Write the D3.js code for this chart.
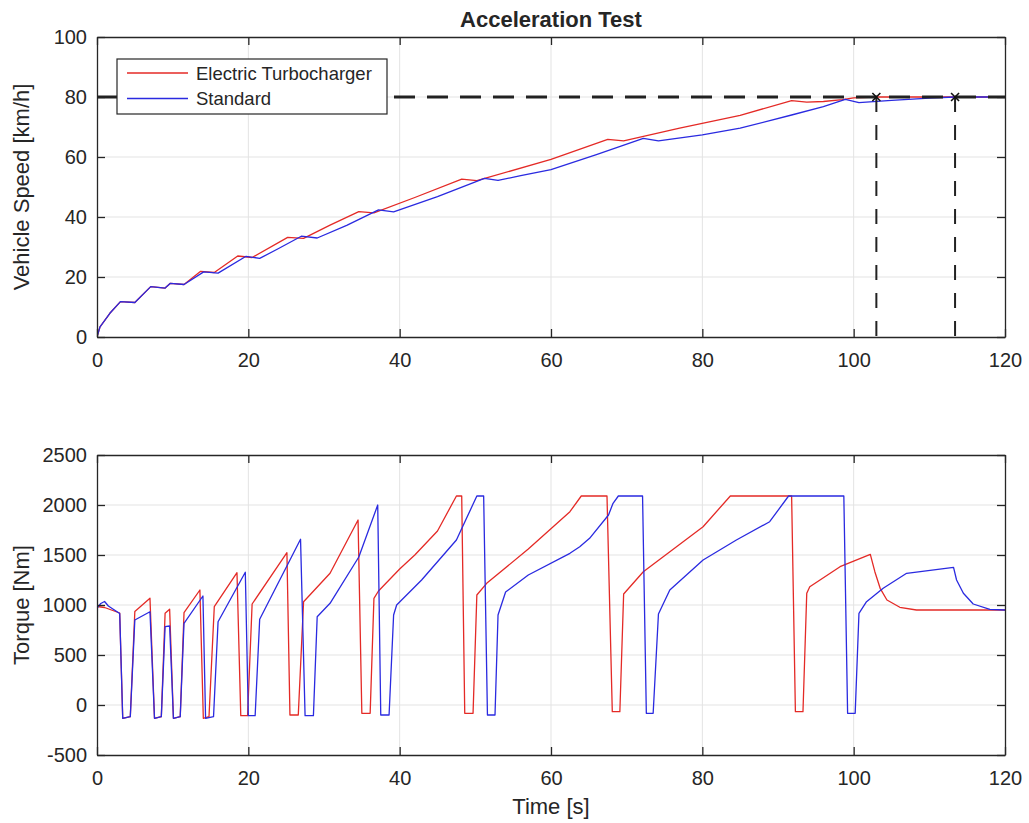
<!DOCTYPE html>
<html>
<head>
<meta charset="utf-8">
<script src="https://cdn.jsdelivr.net/npm/d3@7"></script>
<style>
  body { margin: 0; background: #fff; }
  text { font-family: "Liberation Sans", Arial, sans-serif; fill: #262626; }
</style>
</head>
<body>
<svg width="1029" height="823"></svg>
<script>
// series names and read-off values
var seriesNames = ["Electric Turbocharger", "Standard"];

var timeTicks = [0, 20, 40, 60, 80, 100, 120];
var speedTicks = [0, 20, 40, 60, 80, 100];
var torqueTicks = [-500, 0, 500, 1000, 1500, 2000, 2500];

var targetSpeed = 80;
var reachTimes = [103.0, 113.4];

// [time s, speed km/h]
var speedElectric = [
  [0, 0], [0.4, 3.4], [1.7, 7.9], [3.1, 11.8], [5.0, 11.5], [7.1, 16.8], [9.0, 16.3],
  [9.7, 17.9], [11.5, 17.5], [13.7, 21.9], [15.5, 21.5], [18.6, 27.0], [20.5, 26.5],
  [25.2, 33.2], [27.3, 32.9], [30.8, 37.3], [34.6, 41.8], [36.6, 41.4], [42, 46.5],
  [48.2, 52.6], [50.2, 52.1], [60, 59.2], [67.5, 65.9], [69.6, 65.4], [77, 69.6],
  [85, 73.9], [91.8, 78.8], [93.8, 78.3], [96, 78.5], [98.5, 79.1], [100, 79.7],
  [103, 80], [120, 80]
];
var speedStandard = [
  [0, 0], [0.4, 3.4], [1.7, 7.9], [3.1, 11.8], [5.0, 11.5], [7.1, 16.8], [9.0, 16.3],
  [9.7, 17.9], [11.5, 17.5], [14.1, 21.7], [16.0, 21.3], [19.7, 26.9], [21.5, 26.2],
  [24, 29.5], [27.0, 33.6], [29.1, 33.0], [33, 37.2], [37.2, 42.4], [39.2, 41.7],
  [45, 46.8], [51.2, 52.9], [53.0, 52.2], [56, 53.8], [60, 55.8], [66, 60.8],
  [72.2, 66.2], [74.2, 65.4], [80, 67.4], [85, 69.6], [91.8, 74.0], [96, 76.8],
  [98.9, 79.2], [100.7, 78.1], [105, 78.9], [110, 79.6], [113.4, 80], [120, 80]
];

// [time s, torque Nm]
var torqueElectric = [
  [0, 0], [0.05, 985], [1, 975], [3.0, 920], [3.4, -133], [4.4, -117], [5.0, 935],
  [7.0, 1067], [7.6, -133], [8.5, -117], [9.0, 917], [9.6, 957], [10.1, -133],
  [11.0, -117], [11.5, 923], [13.6, 1150], [14.05, -133], [14.8, -117], [15.5, 983],
  [18.5, 1323], [19.0, -107], [19.9, -107], [20.5, 1010], [25.1, 1523], [25.5, -100],
  [26.6, -100], [27.3, 1033], [30.8, 1317], [34.5, 1850], [35.0, -83], [36.1, -83],
  [36.6, 1067], [37.2, 1140], [40, 1360], [42, 1500], [45, 1740], [47.5, 2090], [48.2, 2090],
  [48.6, -83], [49.7, -83], [50.2, 1100], [51.5, 1217], [57, 1560], [62.5, 1933],
  [64.0, 2090], [67.4, 2090], [68.1, -67], [69.1, -67], [69.6, 1110], [72.2, 1333],
  [80.1, 1783], [83.7, 2090], [91.8, 2090], [92.3, -67], [93.3, -67], [93.8, 1117],
  [94.2, 1183], [98.2, 1383], [102.2, 1507], [102.8, 1333], [103.5, 1167],
  [104.4, 1050], [106.1, 977], [108.3, 950], [120, 950]
];
var torqueStandard = [
  [0, 0], [0.05, 975], [0.5, 1015], [1.0, 1035], [1.5, 990], [3.0, 915], [3.4, -133],
  [4.4, -117], [5.0, 850], [7.0, 933], [7.6, -133], [8.5, -117], [9.0, 783], [9.6, 790],
  [10.1, -133], [11.0, -117], [11.5, 817], [14.0, 1090], [14.35, -133], [15.4, -117],
  [16.0, 833], [19.6, 1327], [20.0, -107], [20.9, -107], [21.5, 857], [26.9, 1657],
  [27.5, -107], [28.6, -107], [29.1, 883], [30.8, 1017], [34.6, 1480], [37.1, 2000],
  [37.5, -100], [38.6, -100], [39.2, 900], [39.6, 1000], [42.9, 1250], [47.5, 1650],
  [50.2, 2090], [51.1, 2090], [51.6, -100], [52.6, -100], [53.0, 900], [54.0, 1130],
  [57, 1300], [62.5, 1517], [63.8, 1583], [65.1, 1667], [67.6, 1900], [68.2, 2017],
  [68.9, 2090], [72.1, 2090], [72.6, -83], [73.5, -83], [74.2, 910], [75.7, 1150],
  [80.1, 1450], [84.5, 1650], [88.9, 1833], [91.4, 2090], [98.7, 2090], [99.2, -83],
  [100.2, -83], [100.7, 917], [101.7, 1033], [103.9, 1167], [107.0, 1317],
  [113.2, 1377], [113.6, 1250], [114.5, 1117], [115.8, 1010], [118.0, 957], [120, 950]
];

var colors = ["#e42a26", "#2a2ae0"];
var axisColor = "#262626";

var svg = d3.select("svg");

var x = d3.scaleLinear().domain([0, 120]).range([97, 1005]);
var ySpeed = d3.scaleLinear().domain([0, 100]).range([337, 37]);
var yTorque = d3.scaleLinear().domain([-500, 2500]).range([755, 455]);

svg.append("defs").selectAll("clipPath")
    .data([["clipTop", ySpeed], ["clipBottom", yTorque]])
    .enter().append("clipPath")
    .attr("id", function(d) { return d[0]; })
    .append("rect")
    .attr("x", x.range()[0])
    .attr("y", function(d) { return d[1].range()[1]; })
    .attr("width", x.range()[1] - x.range()[0])
    .attr("height", function(d) { return d[1].range()[0] - d[1].range()[1]; });

var plain = function(d) { return String(d); };

function panel(y, yTicks, clipId, series, label) {
    var g = svg.append("g");
    var x0 = x.range()[0], x1 = x.range()[1];
    var yb = y.range()[0], yt = y.range()[1];

    // grid
    g.append("g").selectAll("line").data(timeTicks.slice(1, -1)).enter().append("line")
        .attr("x1", x).attr("x2", x).attr("y1", yt).attr("y2", yb)
        .attr("stroke", "#e3e3e3").attr("stroke-width", 1);
    g.append("g").selectAll("line").data(yTicks.slice(1, -1)).enter().append("line")
        .attr("x1", x0).attr("x2", x1).attr("y1", y).attr("y2", y)
        .attr("stroke", "#e3e3e3").attr("stroke-width", 1);

    // data lines
    var line = d3.line().x(function(d) { return x(d[0]); }).y(function(d) { return y(d[1]); });
    g.append("g").attr("clip-path", "url(#" + clipId + ")")
        .selectAll("path").data(series).enter().append("path")
        .attr("d", line)
        .attr("fill", "none")
        .attr("stroke", function(d, i) { return colors[i]; })
        .attr("stroke-width", 1.3)
        .attr("stroke-linejoin", "round");

    // axes, ticks pointing in
    var bottom = g.append("g").attr("transform", "translate(0," + yb + ")")
        .call(d3.axisBottom(x).tickValues(timeTicks).tickFormat(plain)
            .tickSizeInner(-8).tickSizeOuter(0).tickPadding(16));
    var top = g.append("g").attr("transform", "translate(0," + yt + ")")
        .call(d3.axisTop(x).tickValues(timeTicks).tickSizeInner(-8).tickSizeOuter(0).tickFormat(""));
    var left = g.append("g").attr("transform", "translate(" + x0 + ",0)")
        .call(d3.axisLeft(y).tickValues(yTicks).tickFormat(plain)
            .tickSizeInner(-8).tickSizeOuter(0).tickPadding(10));
    var right = g.append("g").attr("transform", "translate(" + x1 + ",0)")
        .call(d3.axisRight(y).tickValues(yTicks).tickSizeInner(-8).tickSizeOuter(0).tickFormat(""));

    [bottom, top, left, right].forEach(function(a) {
        a.selectAll("path, line").attr("stroke", axisColor).attr("stroke-width", 1.3);
        a.selectAll("text").attr("font-size", "20px").attr("fill", axisColor)
            .attr("font-family", "'Liberation Sans', Arial, sans-serif");
    });

    g.append("text")
        .attr("transform", "translate(29," + ((yt + yb) / 2) + ") rotate(-90)")
        .attr("text-anchor", "middle")
        .attr("font-size", "22px")
        .text(label);
    return g;
}

var topPanel = panel(ySpeed, speedTicks, "clipTop", [speedElectric, speedStandard], "Vehicle Speed [km/h]");
panel(yTorque, torqueTicks, "clipBottom", [torqueElectric, torqueStandard], "Torque [Nm]");

// target speed line and reach markers
topPanel.append("line")
    .attr("x1", x(0)).attr("x2", x(120))
    .attr("y1", ySpeed(targetSpeed)).attr("y2", ySpeed(targetSpeed))
    .attr("stroke", "#222").attr("stroke-width", 3)
    .attr("stroke-dasharray", "21,12");

topPanel.selectAll(".reach").data(reachTimes).enter().append("line")
    .attr("x1", x).attr("x2", x)
    .attr("y1", ySpeed(targetSpeed)).attr("y2", ySpeed(0))
    .attr("stroke", "#222").attr("stroke-width", 2)
    .attr("stroke-dasharray", "15,13");

var mk = topPanel.selectAll(".mk").data(reachTimes).enter().append("g")
    .attr("transform", function(d) { return "translate(" + x(d) + "," + ySpeed(targetSpeed) + ")"; });
mk.append("path").attr("d", "M-4,-4L4,4M-4,4L4,-4")
    .attr("stroke", "#111").attr("stroke-width", 1.6);

// legend
var lg = svg.append("g").attr("transform", "translate(117,59)");
lg.append("rect").attr("width", 270).attr("height", 55)
    .attr("fill", "#fff").attr("stroke", axisColor).attr("stroke-width", 1.2);
var items = lg.selectAll(".item").data(seriesNames).enter().append("g")
    .attr("transform", function(d, i) { return "translate(0," + (14 + i * 25.5) + ")"; });
items.append("line").attr("x1", 10).attr("x2", 71)
    .attr("stroke", function(d, i) { return colors[i]; }).attr("stroke-width", 1.3);
items.append("text").attr("x", 79).attr("y", 6.5)
    .attr("font-size", "18.5px")
    .text(function(d) { return d; });

// title and x label
svg.append("text").attr("x", 551).attr("y", 27)
    .attr("text-anchor", "middle").attr("font-size", "22px").attr("font-weight", "bold")
    .attr("fill", "#000")
    .text("Acceleration Test");

svg.append("text").attr("x", 551).attr("y", 814)
    .attr("text-anchor", "middle").attr("font-size", "22px")
    .text("Time [s]");
</script>
</body>
</html>
